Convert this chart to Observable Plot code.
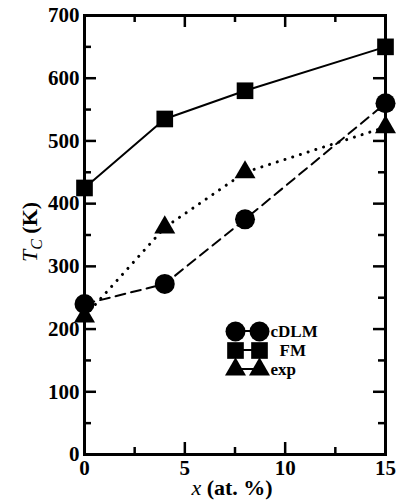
<!DOCTYPE html>
<html><head><meta charset="utf-8">
<script src="https://cdn.jsdelivr.net/npm/d3@7"></script>
<script src="https://cdn.jsdelivr.net/npm/@observablehq/plot@0.6"></script>
<style>body{margin:0;background:#fff} #chart{width:398px;height:502px}</style>
</head><body><div id="chart"></div>
<script>
const xValues = [0, 4, 8, 15];
const cdlmTc = [240, 272, 375, 560];
const fmTc = [425, 535, 580, 650];
const expTc = [220, 362, 450, 522];
const seriesNames = ["cDLM", "FM", "exp"];
const xMajorTicks = [0, 5, 10, 15];
const xMinorTicks = [2.5, 7.5, 12.5];
const yMajorTicks = [0, 100, 200, 300, 400, 500, 600, 700];
const yMinorTicks = [50, 150, 250, 350, 450, 550, 650];

const W = 398, H = 502;
const mT = 15, mR = 13, mB = 48, mL = 84;
const innerW = W - mL - mR, innerH = H - mT - mB;
const font = "Liberation Serif";

const toRows = (ys) => xValues.map((x, i) => ({x, y: ys[i]}));
const cdlm = toRows(cdlmTc), fm = toRows(fmTc), expd = toRows(expTc);

const symbols = ["circle", "square", "triangle"];
const symR = {circle: 10, square: 9.4, triangle: 7.8};
const legendRows = seriesNames.map((name, i) => ({name, symbol: symbols[i], row: i}));
const rowDy = [316, 335, 354];
const textDx = [186, 195, 186];

const lineMajor = 12, lineMinor = 7;
const tickW = 2.5;

const marks = [
  Plot.line(expd, {x: "x", y: "y", stroke: "black", strokeWidth: 3, strokeDasharray: "0.1,8", strokeLinecap: "round"}),
  Plot.line(cdlm, {x: "x", y: "y", stroke: "black", strokeWidth: 2, strokeDasharray: "10,6"}),
  Plot.line(fm, {x: "x", y: "y", stroke: "black", strokeWidth: 2}),
  Plot.dot(expd, {x: "x", y: "y", symbol: "triangle", r: symR.triangle, fill: "black", stroke: null}),
  Plot.dot(cdlm, {x: "x", y: "y", symbol: "circle", r: symR.circle, fill: "black", stroke: null}),
  Plot.dot(fm, {x: "x", y: "y", symbol: "square", r: symR.square, fill: "black", stroke: null}),
  // inward ticks
  Plot.tickX(xMajorTicks, {x: d => d, insetTop: innerH - lineMajor, stroke: "black", strokeWidth: tickW}),
  Plot.tickX(xMinorTicks, {x: d => d, insetTop: innerH - lineMinor, stroke: "black", strokeWidth: tickW}),
  Plot.tickX(xMajorTicks, {x: d => d, insetBottom: innerH - lineMajor, stroke: "black", strokeWidth: tickW}),
  Plot.tickX(xMinorTicks, {x: d => d, insetBottom: innerH - lineMinor, stroke: "black", strokeWidth: tickW}),
  Plot.tickY(yMajorTicks, {y: d => d, insetRight: innerW - lineMajor, stroke: "black", strokeWidth: tickW}),
  Plot.tickY(yMinorTicks, {y: d => d, insetRight: innerW - lineMinor, stroke: "black", strokeWidth: tickW}),
  Plot.tickY(yMajorTicks, {y: d => d, insetLeft: innerW - lineMajor, stroke: "black", strokeWidth: tickW}),
  Plot.tickY(yMinorTicks, {y: d => d, insetLeft: innerW - lineMinor, stroke: "black", strokeWidth: tickW}),
  Plot.frame({stroke: "black", strokeWidth: 3}),
  Plot.axisX({ticks: xMajorTicks, tickSize: 0, tickPadding: 6, label: null, fontSize: 21, fontWeight: "bold", fontFamily: font, fill: "black"}),
  Plot.axisY({ticks: yMajorTicks, tickSize: 0, tickPadding: 5, label: null, fontSize: 21, fontWeight: "bold", fontFamily: font, fill: "black"}),
];

// legend
legendRows.forEach((d) => {
  const r = symR[d.symbol];
  marks.push(Plot.dot([d], {frameAnchor: "top-left", dx: 151, dy: rowDy[d.row], symbol: d.symbol, r, fill: "black", stroke: null}));
  marks.push(Plot.dot([d], {frameAnchor: "top-left", dx: 175, dy: rowDy[d.row], symbol: d.symbol, r, fill: "black", stroke: null}));
  marks.push(Plot.text([d], {frameAnchor: "top-left", dx: textDx[d.row], dy: rowDy[d.row], text: "name", textAnchor: "start", lineAnchor: "middle", fontSize: 17, fontWeight: "bold", fontFamily: font, fill: "black"}));
});

const chart = Plot.plot({
  width: W, height: H,
  marginTop: mT, marginRight: mR, marginBottom: mB, marginLeft: mL,
  x: {domain: [0, 15]},
  y: {domain: [0, 700]},
  style: {fontFamily: font, background: "white", color: "black", overflow: "visible"},
  marks
});
document.getElementById("chart").append(chart);

const svg = d3.select(chart);
// legend connector lines
legendRows.forEach((d) => {
  svg.append("line")
    .attr("x1", mL + 151).attr("x2", mL + 175)
    .attr("y1", mT + rowDy[d.row]).attr("y2", mT + rowDy[d.row])
    .attr("stroke", "black").attr("stroke-width", 2);
});
// y axis label
const yl = svg.append("text")
  .attr("transform", `translate(37,232) rotate(-90)`)
  .attr("text-anchor", "middle")
  .style("font-family", font).style("font-size", "22px").attr("fill", "black");
yl.append("tspan").style("font-style", "italic").text("T");
yl.append("tspan").style("font-style", "italic").style("font-size", "16px").attr("dy", 5).text("C");
yl.append("tspan").style("font-weight", "bold").attr("dy", -5).text(" (K)");
// x axis label
const xl = svg.append("text")
  .attr("x", 232).attr("y", 495)
  .attr("text-anchor", "middle")
  .style("font-family", font).style("font-size", "22px").attr("fill", "black");
xl.append("tspan").style("font-style", "italic").text("x");
xl.append("tspan").style("font-weight", "bold").text(" (at. %)");
</script>
</body></html>
